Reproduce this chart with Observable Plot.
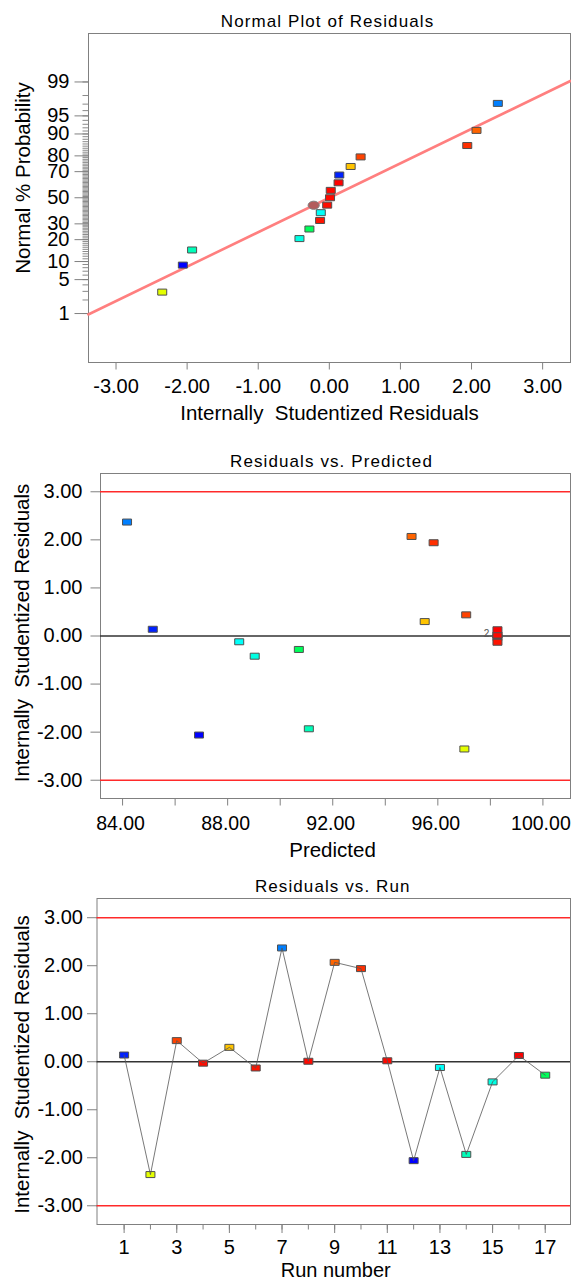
<!DOCTYPE html>
<html><head><meta charset="utf-8">
<script src="https://cdn.jsdelivr.net/npm/d3@7"></script>
<script src="https://cdn.jsdelivr.net/npm/@observablehq/plot@0.6"></script>
<style>
body{margin:0;background:#fff;}
#wrap{position:relative;width:571px;height:1281px;overflow:hidden;}
.panel{position:absolute;left:0;}
svg{overflow:visible;}
</style></head><body><div id="wrap"></div>
<script>
// ---- data ----
const runs      = [1, 2, 3, 4, 5, 6, 7, 8, 9, 10, 11, 12, 13, 14, 15, 16, 17];
const residuals = [0.14, -2.35, 0.44, -0.03, 0.30, -0.13, 2.37, 0.01, 2.07, 1.94, 0.02, -2.06, -0.12, -1.93, -0.42, 0.13, -0.28];
const predicted = [85.15, 97.01, 97.08, 98.27, 95.50, 98.27, 84.17, 98.27, 95.00, 95.84, 98.27, 86.91, 88.44, 91.09, 89.03, 98.27, 90.71];
const normalPct = [67.6, 2.9, 79.4, 44.1, 73.5, 32.4, 97.1, 50.0, 91.2, 85.3, 55.9, 8.8, 38.2, 14.7, 20.6, 61.8, 26.5];
const highlightResid = [-0.22];
const highlightPct = [44.0];
const fitLineResid = [-3.39, 3.39];
const fitLinePct = [0.95, 99.05];
const probMajor = [1, 5, 10, 20, 30, 50, 70, 80, 90, 95, 99];
const probMinor = [1,2,3,4,5,6,7,8,9,10,11,12,13,14,15,16,17,18,19,20,21,22,23,24,25,26,27,28,29,30,31,32,33,34,35,36,37,38,39,40,41,42,43,44,45,46,47,48,49,50,51,52,53,54,55,56,57,58,59,60,61,62,63,64,65,66,67,68,69,70,71,72,73,74,75,76,77,78,79,80,81,82,83,84,85,86,87,88,89,90,91,92,93,94,95,96,97,98,99];
const residTicks = [-3, -2, -1, 0, 1, 2, 3];
const predTicks = [84, 86, 88, 90, 92, 94, 96, 98, 100];
const predLabels = [84, 88, 92, 96, 100];
const runTicks = [1,2,3,4,5,6,7,8,9,10,11,12,13,14,15,16,17];
const runLabels = [1,3,5,7,9,11,13,15,17];
const limits = [-3, 3];
const stackLabel = ["2"];
const panelTitles = ["Normal Plot of Residuals", "Residuals vs. Predicted", "Residuals vs. Run"];

// ---- helpers ----
function probit(p){
  const a=[-3.969683028665376e+01,2.209460984245205e+02,-2.759285104469687e+02,1.383577518672690e+02,-3.066479806614716e+01,2.506628277459239e+00];
  const b=[-5.447609879822406e+01,1.615858368580409e+02,-1.556989798598866e+02,6.680131188771972e+01,-1.328068155288572e+01];
  const c=[-7.784894002430293e-03,-3.223964580411365e-01,-2.400758277161838e+00,-2.549732539343734e+00,4.374664141464968e+00,2.938163982698783e+00];
  const d=[7.784695709041462e-03,3.224671290700398e-01,2.445134137142996e+00,3.754408661907416e+00];
  const pl=0.02425, ph=1-pl; let q,r;
  if(p<pl){q=Math.sqrt(-2*Math.log(p));return (((((c[0]*q+c[1])*q+c[2])*q+c[3])*q+c[4])*q+c[5])/((((d[0]*q+d[1])*q+d[2])*q+d[3])*q+1);}
  if(p<=ph){q=p-0.5;r=q*q;return (((((a[0]*r+a[1])*r+a[2])*r+a[3])*r+a[4])*r+a[5])*q/(((((b[0]*r+b[1])*r+b[2])*r+b[3])*r+b[4])*r+1);}
  q=Math.sqrt(-2*Math.log(1-p));return -(((((c[0]*q+c[1])*q+c[2])*q+c[3])*q+c[4])*q+c[5])/((((d[0]*q+d[1])*q+d[2])*q+d[3])*q+1);
}
const z = pct => probit(pct/100);

const rows = runs.map((r,i)=>({run:r, resid:residuals[i], pred:predicted[i], z:z(normalPct[i]), level:predicted[i]+residuals[i]}));
const colorOpt = {type:"linear", domain:d3.extent(rows, d=>d.level), interpolate: t => d3.hsl(240*(1-t), 1, 0.5).toString()};

const rectSym = {draw(ctx){ctx.moveTo(-4.5,-3);ctx.lineTo(4.5,-3);ctx.lineTo(4.5,3);ctx.lineTo(-4.5,3);ctx.closePath();}};
const ellSym = {draw(ctx){const rx=5.6, ry=4.1, k=0.5523;
  ctx.moveTo(rx,0); ctx.bezierCurveTo(rx,ry*k,rx*k,ry,0,ry); ctx.bezierCurveTo(-rx*k,ry,-rx,ry*k,-rx,0);
  ctx.bezierCurveTo(-rx,-ry*k,-rx*k,-ry,0,-ry); ctx.bezierCurveTo(rx*k,-ry,rx,-ry*k,rx,0); ctx.closePath();}};
const leftTick = len => ({draw(ctx){ctx.moveTo(-len,0);ctx.lineTo(0,0);}});
const downTick = len => ({draw(ctx){ctx.moveTo(0,0);ctx.lineTo(0,len);}});

const FONT = '"Liberation Sans", Arial, sans-serif';
const AX = "#808080";
const TICKFS = 20, TITLEFS = 20.5, HEADFS = 17;
const fmt2 = d => d.toFixed(2);
const ISR = "Internally\u00a0 Studentized Residuals";

function place(svg, top){
  d3.select(svg).selectAll("text").filter(function(){ return panelTitles.includes(this.textContent); })
    .style("letter-spacing", "1.1px");
  const div = document.createElement("div");
  div.className = "panel"; div.style.top = top + "px";
  div.appendChild(svg); document.getElementById("wrap").appendChild(div);
}
const dotStyle = {symbol: rectSym, r: 4, stroke: "#505050", strokeWidth: 1};

function yTicks(vals, len, stroke){ return Plot.dot(vals, {y: d => d, frameAnchor: "left", symbol: leftTick(len), r: 4, stroke, strokeWidth: 1, fill: "none"}); }
function xTicks(vals, len, stroke){ return Plot.dot(vals, {x: d => d, frameAnchor: "bottom", symbol: downTick(len), r: 4, stroke, strokeWidth: 1, fill: "none"}); }
function yLabels(vals, fmt, off){ return Plot.text(vals, {y: d => d, frameAnchor: "left", dx: -off, textAnchor: "end", lineAnchor: "middle", text: fmt, fontSize: TICKFS, fill: "black"}); }
function xLabels(vals, fmt, off, extra = {}){ return Plot.text(vals, {x: d => d, frameAnchor: "bottom", dy: off, textAnchor: "middle", lineAnchor: "middle", text: fmt, fontSize: TICKFS, fill: "black", ...extra}); }
function heading(t, dx){ return Plot.text([t], {frameAnchor: "top", dy: -12, dx, textAnchor: "middle", lineAnchor: "middle", fontSize: HEADFS, fill: "black"}); }
function xTitle(t, dy, dx, fs = TITLEFS){ return Plot.text([t], {frameAnchor: "bottom", dy, dx, textAnchor: "middle", lineAnchor: "middle", fontSize: fs, fill: "black"}); }
function yTitle(t, dx, dy){ return Plot.text([t], {frameAnchor: "left", dx, dy, rotate: -90, textAnchor: "middle", lineAnchor: "middle", fontSize: TITLEFS, fill: "black"}); }

// ---- Panel 1: Normal plot ----
const zMajor = probMajor.map(z);
const p1 = Plot.plot({
  width: 571, height: 430, marginTop: 33, marginBottom: 68, marginLeft: 88, marginRight: 1,
  style: {fontFamily: FONT, background: "transparent", color: "black", overflow: "visible"},
  x: {domain: [-3.387, 3.392], axis: null},
  y: {domain: [-3.31, 3.30], axis: null},
  color: colorOpt,
  marks: [
    Plot.frame({stroke: AX}),
    xTicks(residTicks, 7, AX),
    xLabels(residTicks, fmt2, 24.5),
    yTicks(probMinor.map(z), 6, "#8a8a8a"),
    yTicks(zMajor, 14, AX),
    Plot.text(probMajor, {y: p => z(p), frameAnchor: "left", dx: -19, textAnchor: "end", lineAnchor: "middle", text: p => String(p), fontSize: TICKFS, fill: "black"}),
    Plot.line(fitLineResid.map((x,i)=>({x, y: z(fitLinePct[i])})), {x: "x", y: "y", stroke: "#ff7f7f", strokeWidth: 2.6}),
    Plot.dot(rows, {x: "resid", y: "z", fill: "level", ...dotStyle}),
    Plot.dot(highlightResid.map((x,i)=>({x, y: z(highlightPct[i])})), {x: "x", y: "y", symbol: ellSym, r: 4, fill: "#b35c5c", stroke: "#808080", strokeWidth: 1}),
    heading(panelTitles[0], -2),
    xTitle(ISR, 50.7, 0),
    yTitle("Normal % Probability", -65, -20)
  ]
});
place(p1, 0);

// ---- Panel 2: Residuals vs. Predicted ----
const stackPred = d3.max(predicted);
const p2 = Plot.plot({
  width: 571, height: 430, marginTop: 43, marginBottom: 62, marginLeft: 100, marginRight: 1,
  style: {fontFamily: FONT, background: "transparent", color: "black", overflow: "visible"},
  x: {domain: [83.16, 101.05], axis: null},
  y: {domain: [-3.38, 3.38], axis: null},
  color: colorOpt,
  marks: [
    Plot.frame({stroke: AX}),
    xTicks(predTicks, 7, AX),
    xLabels(predLabels, fmt2, 25, {fontSize: 19.5, dx: -2}),
    yTicks(residTicks, 10, AX),
    yLabels(residTicks, fmt2, 18),
    Plot.ruleY(limits, {stroke: "#ff2a2a", strokeWidth: 1.5}),
    Plot.ruleY([0], {stroke: "#333", strokeWidth: 1.5}),
    Plot.dot(rows, {x: "pred", y: "resid", fill: "level", ...dotStyle}),
    Plot.text(stackLabel, {x: () => stackPred, y: () => 0.05, dx: -11, fontSize: 10, fill: "#555"}),
    heading(panelTitles[1], -4),
    xTitle("Predicted", 52.3, -3),
    yTitle(ISR, -78, -3)
  ]
});
place(p2, 430);

// ---- Panel 3: Residuals vs. Run ----
const p3 = Plot.plot({
  width: 571, height: 421, marginTop: 38, marginBottom: 57, marginLeft: 96.5, marginRight: 1,
  style: {fontFamily: FONT, background: "transparent", color: "black", overflow: "visible"},
  x: {domain: [-0.03, 17.96], axis: null},
  y: {domain: [-3.39, 3.40], axis: null},
  color: colorOpt,
  marks: [
    Plot.frame({stroke: AX}),
    xTicks(runTicks, 5, AX),
    xTicks(runLabels, 8.5, AX),
    xLabels(runLabels, d => String(d), 23.5),
    yTicks(residTicks, 10, AX),
    yLabels(residTicks, fmt2, 14),
    Plot.ruleY(limits, {stroke: "#ff2a2a", strokeWidth: 1.5}),
    Plot.ruleY([0], {stroke: "#333", strokeWidth: 1.5}),
    Plot.dot(rows, {x: "run", y: "resid", fill: "level", ...dotStyle}),
    Plot.line(rows, {x: "run", y: "resid", stroke: "#555", strokeWidth: 0.8}),
    heading(panelTitles[2], -1),
    xTitle("Run number", 46.5, 2, 20),
    yTitle(ISR, -74.5, 3)
  ]
});
place(p3, 860);
</script></body></html>
